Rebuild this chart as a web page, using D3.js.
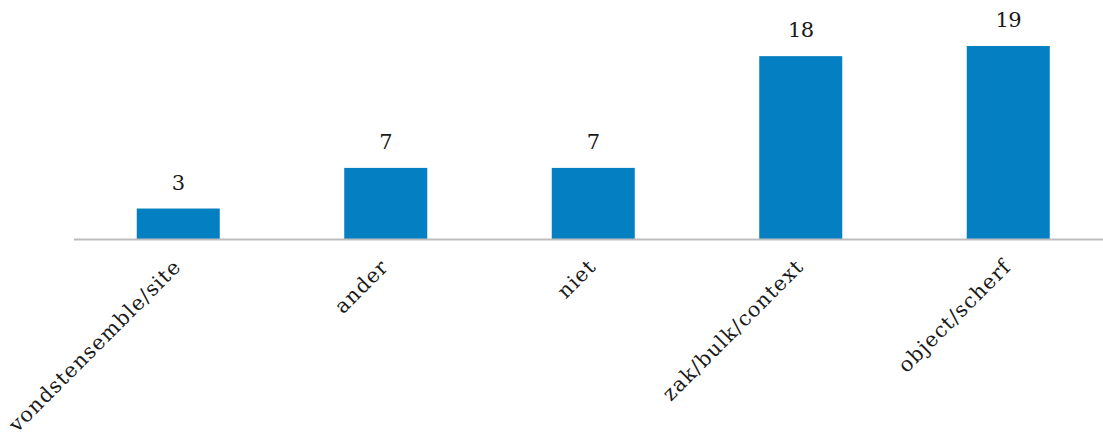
<!DOCTYPE html>
<html><head><meta charset="utf-8">
<script src="https://cdn.jsdelivr.net/npm/d3@7"></script>
<style>
html,body{margin:0;padding:0;background:#fff;}
svg{display:block;font-family:"DejaVu Serif",serif;}
</style></head>
<body><svg id="chart" width="1103" height="437"></svg>
<script>
const categories = ["vondstensemble/site","ander","niet","zak/bulk/context","object/scherf"];
const values = [3,7,7,18,19];

const svg = d3.select("#chart");
const x = d3.scaleBand().domain(categories).range([74.5, 1112]).paddingInner(0.6).paddingOuter(0.3);
const y = d3.scaleLinear().domain([0, 19]).range([239, 46]);

svg.selectAll("rect.bar").data(values).join("rect")
  .attr("class","bar")
  .attr("x",(d,i)=>x(categories[i]))
  .attr("width",x.bandwidth())
  .attr("y",d=>y(d))
  .attr("height",d=>y(0)-y(d))
  .attr("fill","#047fc1");

svg.append("line").attr("x1",74).attr("x2",1103).attr("y1",239.5).attr("y2",239.5)
  .attr("stroke","#bdbdbd").attr("stroke-width",2);

svg.selectAll("text.val").data(values).join("text")
  .attr("class","val")
  .attr("x",(d,i)=>x(categories[i])+x.bandwidth()/2)
  .attr("y",d=>y(d)-19)
  .attr("text-anchor","middle")
  .attr("font-size",21)
  .attr("letter-spacing",-0.5)
  .attr("fill","#1a1a1a")
  .text(d=>d);

svg.selectAll("text.cat").data(categories).join("text")
  .attr("class","cat")
  .attr("text-anchor","end")
  .attr("font-size",20.5)
  .attr("letter-spacing",1.1)
  .attr("fill","#1a1a1a")
  .attr("transform",d=>`translate(${x(d)+x.bandwidth()/2+4},268) rotate(-45)`)
  .text(d=>d);
</script></body></html>
